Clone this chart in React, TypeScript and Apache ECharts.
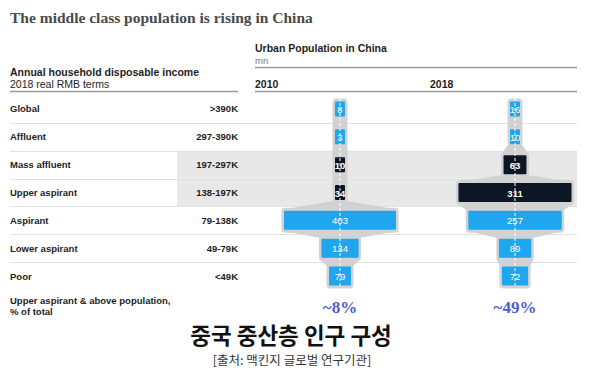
import React, { useEffect, useRef } from "react";
import * as echarts from "echarts";

const categories = ["Global", "Affluent", "Mass affluent", "Upper aspirant", "Aspirant", "Lower aspirant", "Poor"];
const incomeRanges = [">390K", "297-390K", "197-297K", "138-197K", "79-138K", "49-79K", "<49K"];
const pop2010 = [8, 3, 10, 34, 403, 134, 79];
const pop2018 = [16, 10, 63, 311, 257, 89, 72];
const years = ["2010", "2018"];
const upperShare = ["~8%", "~49%"];
const middleClassRows = ["Mass affluent", "Upper aspirant"];

const SANS = "'Liberation Sans', Arial, sans-serif";
const SERIF = "'Liberation Serif', 'Times New Roman', serif";
const KR = "'Noto Sans CJK KR', sans-serif";
const BLUE = "#20a6ee";
const DARK = "#0d1625";
const HALO = "#d2d2d2";
const BAND = "#e8e8e8";
const SEP = "#e2e2e2";
const TXT = "#1e1e1e";
const MIN_W = 10;

const barGeom = (api: any, v: number) => {
  const w = Math.max(api.size([v, 0])[0], MIN_W);
  const bh = w > 12 ? 19 : 15;
  const h = Math.max(w / 2 + 2.5, 7.5);
  return { w, bh, h };
};

const haloRender = (params: any, api: any) => {
  const idx = api.value(0);
  const v = api.value(1);
  const next = api.value(2);
  const c = api.coord([0, idx]);
  const g = barGeom(api, v);
  const top = c[1] - g.bh / 2 - 3;
  const bot = c[1] + g.bh / 2 + 3;
  const children: any[] = [
    { type: "rect", shape: { x: c[0] - g.h, y: top, width: g.h * 2, height: bot - top, r: 4 }, style: { fill: HALO } },
  ];
  if (next >= 0) {
    const nc = api.coord([0, idx + 1]);
    const ng = barGeom(api, next);
    const ntop = nc[1] - ng.bh / 2 - 3;
    children.push({
      type: "polygon",
      shape: {
        points: [
          [c[0] - g.h, bot - 2],
          [c[0] - ng.h, ntop + 2],
          [c[0] + ng.h, ntop + 2],
          [c[0] + g.h, bot - 2],
        ],
      },
      style: { fill: HALO },
    });
  }
  return { type: "group", children };
};

const barRender = (params: any, api: any) => {
  const idx = api.value(0);
  const v = api.value(1);
  const c = api.coord([0, idx]);
  const g = barGeom(api, v);
  const dark = middleClassRows.includes(categories[idx]);
  return {
    type: "group",
    children: [
      {
        type: "rect",
        shape: { x: c[0] - g.w / 2, y: c[1] - g.bh / 2, width: g.w, height: g.bh, r: 1 },
        style: { fill: dark ? DARK : BLUE },
      },
      {
        type: "text",
        x: c[0],
        y: c[1] + 0.5,
        style: {
          text: String(v),
          fill: "#ffffff",
          fontSize: 9.5,
          fontFamily: SANS,
          fontWeight: dark ? "bold" : "normal",
          align: "center",
          verticalAlign: "middle",
        },
      },
    ],
  };
};

const centerRender = (params: any, api: any) => {
  const cs = params.coordSys;
  const c = api.coord([0, 0]);
  return {
    type: "line",
    shape: { x1: c[0], y1: cs.y + 3, x2: c[0], y2: cs.y + cs.height - 1 },
    style: { stroke: "#ffffff", lineWidth: 1, lineDash: [3, 2] },
  };
};

const bgRender = (params: any, api: any) => {
  const idx = api.value(1);
  const cs = params.coordSys;
  const c = api.coord([0, idx]);
  const band = api.size([0, 1])[1];
  const children: any[] = [];
  if (middleClassRows.includes(categories[idx])) {
    children.push({
      type: "rect",
      shape: { x: cs.x + 167, y: c[1] - band / 2, width: cs.width - 167, height: band },
      style: { fill: BAND },
    });
  }
  if (idx > 0) {
    const y = Math.round(c[1] - band / 2) + 0.5;
    children.push({
      type: "line",
      shape: { x1: cs.x, y1: y, x2: cs.x + cs.width, y2: y },
      style: { stroke: SEP, lineWidth: 1 },
    });
  }
  return { type: "group", children };
};

const haloData = (arr: number[]) => arr.map((v, i) => [i, v, i < arr.length - 1 ? arr[i + 1] : -1]);
const barData = (arr: number[]) => arr.map((v, i) => [i, v]);

const shareAxis = (grid: number, lim: number, name: string) => ({
  gridIndex: grid,
  type: "value",
  min: -lim,
  max: lim,
  name,
  nameLocation: "middle",
  nameGap: 9,
  nameTextStyle: { fontFamily: SERIF, fontWeight: "bold", fontSize: 17, color: "#4a5fd2" },
  axisLine: { show: false },
  axisTick: { show: false },
  axisLabel: { show: false },
  splitLine: { show: false },
});

const hiddenY = (grid: number) => ({ gridIndex: grid, type: "category", data: categories, inverse: true, show: false });

const yearSeries = (grid: number, arr: number[]) => [
  {
    type: "custom",
    xAxisIndex: grid,
    yAxisIndex: grid,
    data: haloData(arr),
    encode: { x: 1, y: 0 },
    renderItem: haloRender,
    z: 1,
    silent: true,
  },
  {
    type: "custom",
    xAxisIndex: grid,
    yAxisIndex: grid,
    data: barData(arr),
    encode: { x: 1, y: 0 },
    renderItem: barRender,
    z: 2,
    silent: true,
  },
  {
    type: "custom",
    xAxisIndex: grid,
    yAxisIndex: grid,
    data: [[0, 0]],
    encode: { x: 0, y: 1 },
    renderItem: centerRender,
    z: 3,
    silent: true,
  },
];

const txt = (x: number, y: number, text: string, opts: any = {}) => ({
  type: "text",
  x,
  y,
  silent: true,
  style: {
    text,
    fill: TXT,
    fontFamily: SANS,
    fontSize: 10.5,
    verticalAlign: "middle",
    align: "left",
    ...opts,
  },
});

const hline = (x1: number, x2: number, y: number) => ({
  type: "line",
  silent: true,
  shape: { x1, y1: y, x2, y2: y },
  style: { stroke: "#9a9a9a", lineWidth: 1.3 },
});

export default function App() {
  const ref = useRef<HTMLDivElement>(null);
  useEffect(() => {
    if (!ref.current) return;
    const chart = echarts.init(ref.current, undefined, { renderer: "svg" });
    chart.setOption({
      animation: false,
      backgroundColor: "#ffffff",
      grid: [
        { left: 10, top: 95, width: 567, height: 195 },
        { left: 240, top: 95, width: 200, height: 195 },
        { left: 435, top: 95, width: 160, height: 195 },
      ],
      xAxis: [
        { gridIndex: 0, type: "value", min: 0, max: 1, show: false },
        shareAxis(1, 360, upperShare[0]),
        shareAxis(2, 220, upperShare[1]),
      ],
      yAxis: [
        {
          gridIndex: 0,
          type: "category",
          data: categories,
          inverse: true,
          axisLine: { show: false },
          axisTick: { show: false },
          splitLine: { show: false },
          axisLabel: {
            inside: true,
            margin: 0,
            align: "left",
            interval: 0,
            formatter: (val: string, i: number) => `{n|${val}}{r|${incomeRanges[i]}}`,
            rich: {
              n: { width: 150, align: "left", fontWeight: "bold", fontSize: 9.5, fontFamily: SANS, color: TXT },
              r: { width: 78, align: "right", fontWeight: "bold", fontSize: 9.5, fontFamily: SANS, color: TXT },
            },
          },
        },
        hiddenY(1),
        hiddenY(2),
      ],
      series: [
        {
          type: "custom",
          xAxisIndex: 0,
          yAxisIndex: 0,
          data: categories.map((_, i) => [0, i]),
          encode: { x: 0, y: 1 },
          renderItem: bgRender,
          z: 0,
          silent: true,
        },
        ...yearSeries(1, pop2010),
        ...yearSeries(2, pop2018),
      ],
      graphic: [
        txt(10, 17.5, "The middle class population is rising in China", {
          fontFamily: SERIF,
          fontWeight: "bold",
          fontSize: 15.5,
          fill: "#4a4a4a",
        }),
        txt(255, 48, "Urban Population in China", { fontWeight: "bold" }),
        txt(255, 60, "mn", { fontSize: 9.5, fill: "#777777" }),
        hline(255, 577, 67.5),
        txt(255, 83.5, years[0], { fontWeight: "bold" }),
        txt(430, 83.5, years[1], { fontWeight: "bold" }),
        hline(255, 577, 91.5),
        txt(10, 72, "Annual household disposable income", { fontWeight: "bold" }),
        txt(10, 83.5, "2018 real RMB terms"),
        hline(10, 238, 91.5),
        txt(10, 300, "Upper aspirant & above population,", { fontWeight: "bold", fontSize: 9.5 }),
        txt(10, 311, "% of total", { fontWeight: "bold", fontSize: 9.5 }),
        txt(291, 334, "중국 중산층 인구 구성", {
          fontFamily: KR,
          fontWeight: "bold",
          fontSize: 22.5,
          lineHeight: 24,
          fill: "#111111",
          align: "center",
        }),
        txt(292, 359, "[출처: 맥킨지 글로벌 연구기관]", {
          fontFamily: KR,
          fontSize: 12.5,
          lineHeight: 14,
          fill: "#333333",
          align: "center",
        }),
      ],
    });
    return () => chart.dispose();
  }, []);
  return <div ref={ref} style={{ position: "fixed", left: 0, top: 0, width: 600, height: 377 }} />;
}
